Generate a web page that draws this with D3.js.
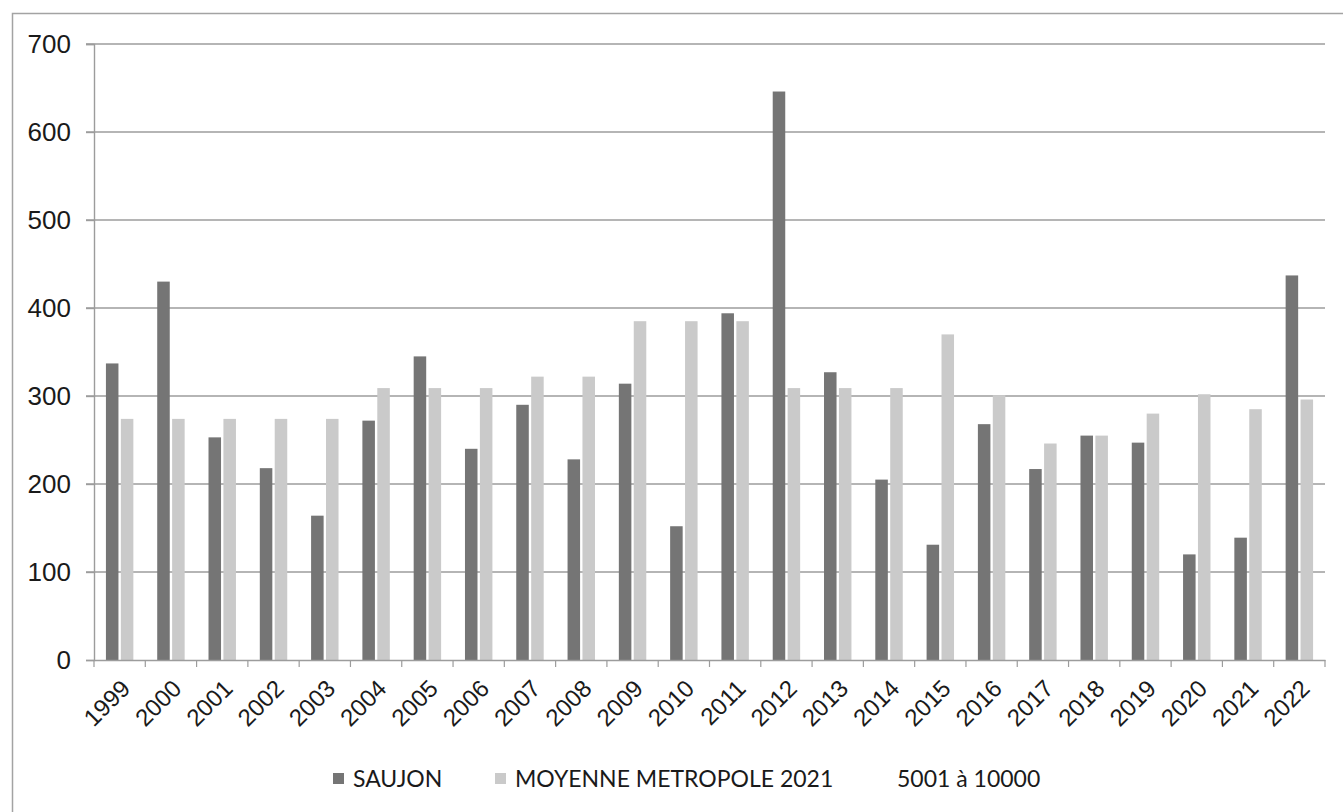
<!DOCTYPE html>
<html lang="fr">
<head>
<meta charset="UTF-8">
<title>SAUJON</title>
<style>
  body { margin: 0; background: #fff; }
  svg { display: block; font-family: Lato, "Open Sans", sans-serif; }
</style>
</head>
<body>
<script src="https://cdnjs.cloudflare.com/ajax/libs/d3/7.8.5/d3.min.js"></script>
<script>
'use strict';
// données
const annees = ["1999","2000","2001","2002","2003","2004","2005","2006","2007","2008","2009","2010",
  "2011","2012","2013","2014","2015","2016","2017","2018","2019","2020","2021","2022"];
const saujon = [337, 430, 253, 218, 164, 272, 345, 240, 290, 228, 314, 152,
  394, 646, 327, 205, 131, 268, 217, 255, 247, 120, 139, 437];
const moyenne = [274, 274, 274, 274, 274, 309, 309, 309, 322, 322, 385, 385,
  385, 309, 309, 309, 370, 301, 246, 255, 280, 302, 285, 296];
const legende = ["SAUJON", "MOYENNE METROPOLE 2021", "5001 à 10000"];
const ticksY = [0, 100, 200, 300, 400, 500, 600, 700];

const W = 1343, H = 812;
const m = {left: 94, right: 1325, top: 44, bottom: 660};

const svg = d3.select("body").append("svg")
  .attr("width", W)
  .attr("height", H);

// cadre du graphique
svg.append("rect")
  .attr("x", 12.5).attr("y", 13.5)
  .attr("width", 1345).attr("height", 815)
  .attr("fill", "none")
  .attr("stroke", "#a3a3a3")
  .attr("stroke-width", 1.5);

const x = d3.scaleBand()
  .domain(annees)
  .range([m.left, m.right]);

const x1 = d3.scaleBand()
  .domain(["saujon", "moyenne"])
  .range([0, x.bandwidth()])
  .paddingInner(0.16)
  .paddingOuter(0.8);

const y = d3.scaleLinear()
  .domain([0, 700])
  .range([m.bottom, m.top]);

// grille
svg.append("g")
  .selectAll("line")
  .data(ticksY.slice(1))
  .enter()
  .append("line")
    .attr("x1", m.left - 8)
    .attr("x2", m.right)
    .attr("y1", d => y(d))
    .attr("y2", d => y(d))
    .attr("stroke", "#9c9c9c")
    .attr("stroke-width", 1.4);

// axe Y
const axeY = svg.append("g")
  .attr("transform", `translate(${m.left},0)`)
  .call(d3.axisLeft(y).tickValues(ticksY).tickSize(8).tickPadding(15));
axeY.select(".domain").attr("stroke", "#9c9c9c").attr("stroke-width", 1.4);
axeY.selectAll(".tick line").attr("stroke", "#9c9c9c").attr("stroke-width", 1.4);
axeY.selectAll("text")
  .attr("fill", "#1a1a1a")
  .style("font-size", "26px");

// barres
const groupes = svg.append("g")
  .selectAll("g")
  .data(annees.map((a, i) => ({annee: a, saujon: saujon[i], moyenne: moyenne[i]})))
  .enter()
  .append("g")
    .attr("transform", d => `translate(${x(d.annee)},0)`);

const couleurs = {saujon: "#757575", moyenne: "#cacaca"};

groupes.selectAll("rect")
  .data(d => ["saujon", "moyenne"].map(k => ({k: k, v: d[k]})))
  .enter()
  .append("rect")
    .attr("x", d => x1(d.k))
    .attr("y", d => y(d.v))
    .attr("width", x1.bandwidth())
    .attr("height", d => y(0) - y(d.v))
    .attr("fill", d => couleurs[d.k]);

// axe X
const axeX = svg.append("g")
  .attr("transform", `translate(0,${m.bottom})`)
  .call(d3.axisBottom(x).tickSize(0).tickPadding(0));
axeX.select(".domain").attr("stroke", "#9c9c9c").attr("stroke-width", 1.4);
axeX.selectAll("text")
  .attr("fill", "#1a1a1a")
  .style("font-size", "24px")
  .attr("text-anchor", "end")
  .attr("transform", "translate(6,24) rotate(-45)")
  .attr("dy", "0.35em");

// petites graduations entre les années
svg.append("g")
  .selectAll("line")
  .data(annees.concat(["fin"]))
  .enter()
  .append("line")
    .attr("x1", (d, i) => m.left + i * x.step())
    .attr("x2", (d, i) => m.left + i * x.step())
    .attr("y1", m.bottom)
    .attr("y2", m.bottom + 7)
    .attr("stroke", "#9c9c9c")
    .attr("stroke-width", 1.2);

// légende
const posLegende = [333, 495, 880];
const leg = svg.append("g")
  .selectAll("g")
  .data(legende)
  .enter()
  .append("g")
    .attr("transform", (d, i) => `translate(${posLegende[i]},779)`);

leg.append("rect")
  .attr("x", 0).attr("y", -6)
  .attr("width", 11).attr("height", 11)
  .attr("fill", (d, i) => i === 0 ? couleurs.saujon : i === 1 ? couleurs.moyenne : "none");

leg.append("text")
  .attr("x", (d, i) => i === 2 ? 17 : 20)
  .attr("dy", "0.36em")
  .attr("fill", "#1a1a1a")
  .style("font-size", "23px")
  .text(d => d);
</script>
</body>
</html>
